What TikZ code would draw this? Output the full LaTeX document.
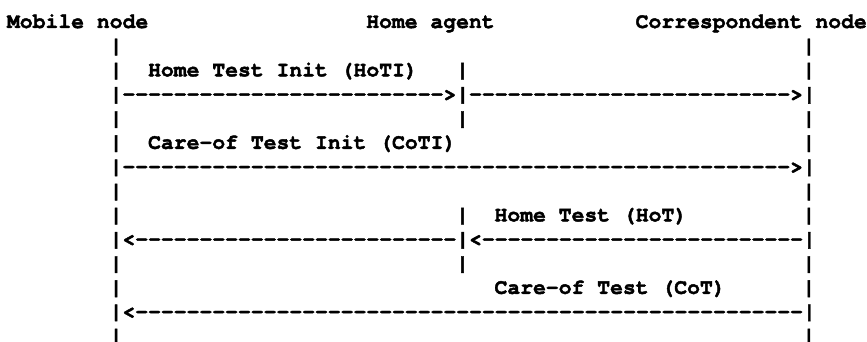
\documentclass[tikz,border=0pt]{standalone}
\usepackage{fontspec}
\setmonofont[BoldFeatures={FakeBold=2}]{TeX Gyre Cursor}
\newcommand\asciiat[4]{\node[ascii] (#1) at ({7+#2*12.83},{342-28-(#3-1)*24.17}) {#4};}
\begin{document}
\begin{tikzpicture}[x=1pt,y=1pt,
  ascii/.style={inner sep=0pt, outer sep=0pt, anchor=base west, text=black,
    font=\fontsize{21.4}{24}\selectfont\ttfamily\bfseries}]
\fill[white] (0,0) rectangle (867,342);
\useasboundingbox (0,0) rectangle (867,342);
% row 1: participants
\asciiat{mn}{0}{1}{Mobile node}
\asciiat{ha}{28}{1}{Home agent}
\asciiat{cn}{49}{1}{Correspondent node}
% row 2
\asciiat{a2}{8}{2}{|}
\asciiat{c2}{62}{2}{|}
% row 3
\asciiat{a3}{8}{3}{|}
\asciiat{hoti}{11}{3}{Home Test Init (HoTI)}
\asciiat{b3}{35}{3}{|}
\asciiat{c3}{62}{3}{|}
% row 4
\asciiat{r4}{8}{4}{|------------------------->|------------------------->|}
% row 5
\asciiat{a5}{8}{5}{|}
\asciiat{b5}{35}{5}{|}
\asciiat{c5}{62}{5}{|}
% row 6
\asciiat{a6}{8}{6}{|}
\asciiat{coti}{11}{6}{Care-of Test Init (CoTI)}
\asciiat{c6}{62}{6}{|}
% row 7
\asciiat{r7}{8}{7}{|---------------------------------------------------->|}
% row 8
\asciiat{a8}{8}{8}{|}
\asciiat{c8}{62}{8}{|}
% row 9
\asciiat{a9}{8}{9}{|}
\asciiat{b9}{35}{9}{|}
\asciiat{hot}{38}{9}{Home Test (HoT)}
\asciiat{c9}{62}{9}{|}
% row 10
\asciiat{r10}{8}{10}{|<-------------------------|<-------------------------|}
% row 11
\asciiat{a11}{8}{11}{|}
\asciiat{b11}{35}{11}{|}
\asciiat{c11}{62}{11}{|}
% row 12
\asciiat{a12}{8}{12}{|}
\asciiat{cot}{38}{12}{Care-of Test (CoT)}
\asciiat{c12}{62}{12}{|}
% row 13
\asciiat{r13}{8}{13}{|<----------------------------------------------------|}
% row 14
\asciiat{a14}{8}{14}{|}
\asciiat{c14}{62}{14}{|}
\end{tikzpicture}
\end{document}
